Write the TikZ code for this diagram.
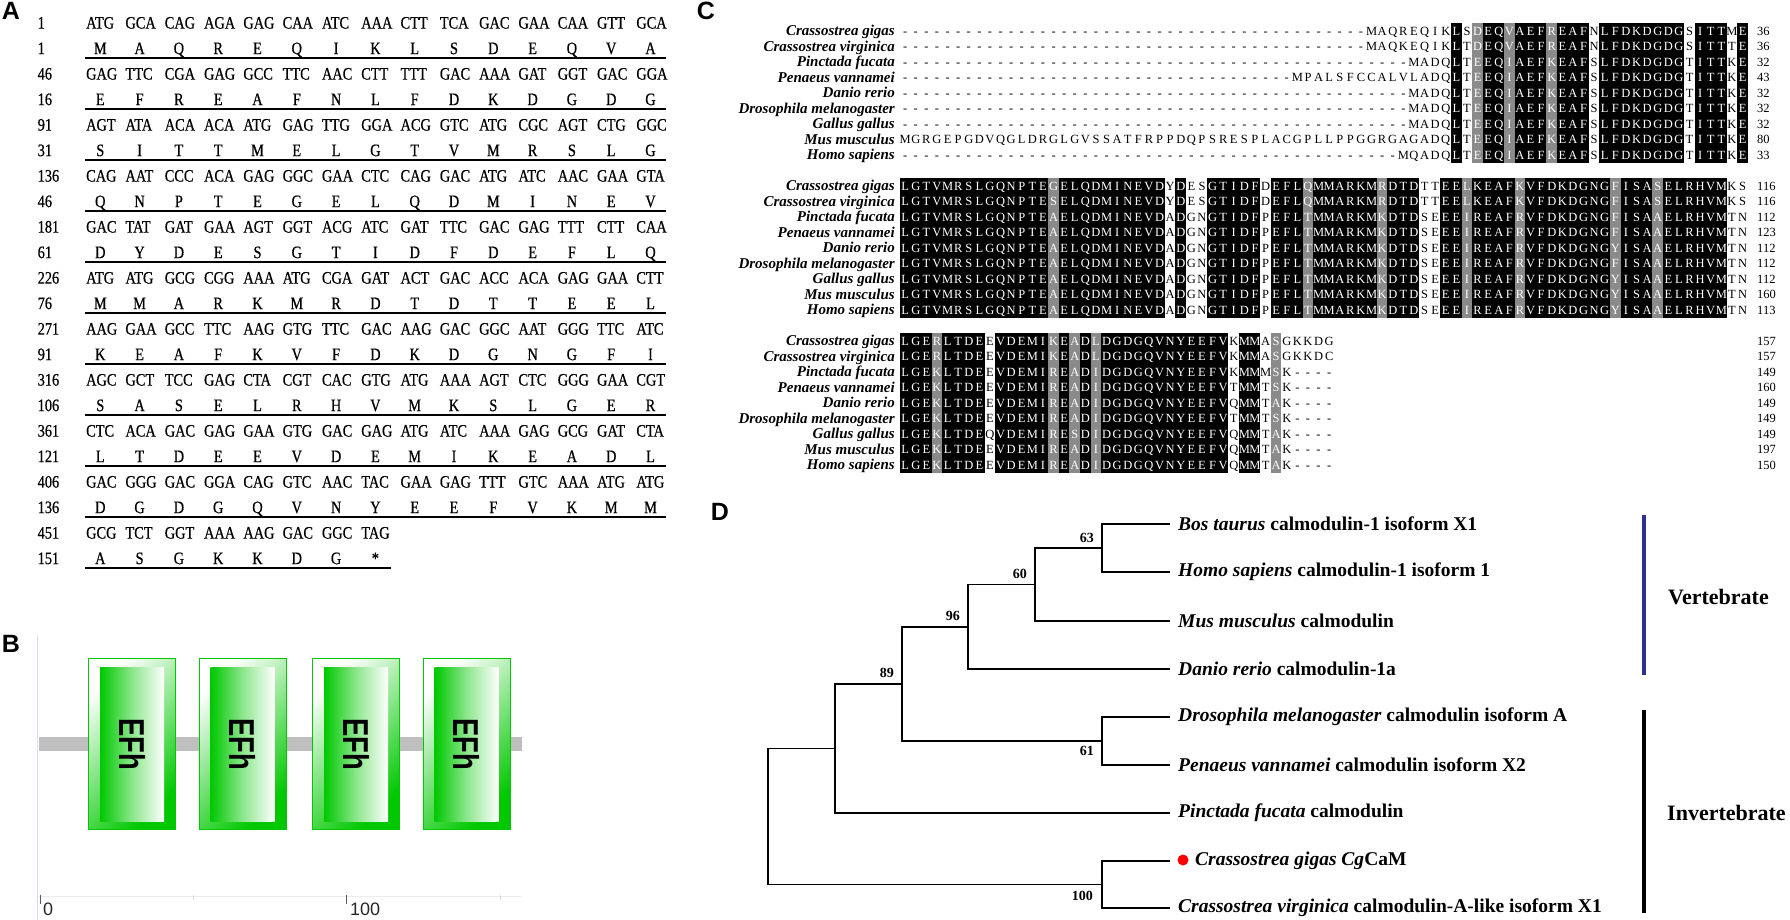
\documentclass[tikz,border=0pt]{standalone}
\usepackage{fontspec}
\setmainfont{Liberation Serif}
\setsansfont{Liberation Sans}
\newfontfamily\seqfont{Liberation Serif}[FakeStretch=0.82,FakeBold=0.6]
\usetikzlibrary{calc}

\definecolor{efgreen}{RGB}{0,200,0}
\definecolor{vertblue}{RGB}{46,49,146}
\definecolor{resgray}{RGB}{138,138,138}

% one residue per column box
\ExplSyntaxOn
\cs_new:Npn \resgap #1 { \prg_replicate:nn {#1} { \makebox[10.6pt]{-} } }
\ExplSyntaxOff
\newcommand\resrow[1]{\expandafter\resrowi#1\relax}
\def\resrowi#1{\ifx\relax#1\else\makebox[10.6pt]{#1}\expandafter\resrowi\fi}

\tikzset{
  panel/.style={font=\sffamily\bfseries\fontsize{25}{25}\selectfont, inner sep=0pt},
  seqtxt/.style={font=\seqfont\fontsize{17.5}{17.5}\selectfont, inner sep=0pt},
  uline/.style={line width=2.3pt},
  spnm/.style={font=\bfseries\itshape\fontsize{15}{15}\selectfont, inner sep=0pt, anchor=base east},
  res/.style={font=\fontsize{12.5}{12.5}\selectfont, inner sep=0pt, anchor=base west},
  resnum/.style={font=\fontsize{12.5}{12.5}\selectfont, inner sep=0pt, anchor=base west},
  shb/.style={fill=black},
  shg/.style={fill=resgray},
  branch/.style={line width=1.7pt, line cap=rect},
  tiplbl/.style={font=\bfseries\fontsize{19.5}{19.5}\selectfont, inner sep=0pt, anchor=west},
  boot/.style={font=\bfseries\fontsize{14}{14}\selectfont, inner sep=0pt, anchor=east},
  clade/.style={font=\bfseries\fontsize{22}{22}\selectfont, inner sep=0pt, anchor=west},
  efh/.style={font=\sffamily\bfseries\fontsize{36}{36}\selectfont, inner sep=0pt, rotate=-90},
  axlbl/.style={font=\sffamily\fontsize{18}{18}\selectfont, inner sep=0pt, anchor=west, text=black!85},
}

% alignment data: leading gaps / residues / end position
\def\blkA{44/MAQREQIKLSDEQVAEFREAFNLFDKDGDGSITTME/36,
44/MAQKEQIKLTDEQVAEFREAFNLFDKDGDGSITTTE/36,
48/MADQLTEEQIAEFKEAFSLFDKDGDGTITTKE/32,
37/MPALSFCCALVLADQLTEEQIAEFKEAFSLFDKDGDGTITTKE/43,
48/MADQLTEEQIAEFKEAFSLFDKDGDGTITTKE/32,
48/MADQLTEEQIAEFKEAFSLFDKDGDGTITTKE/32,
48/MADQLTEEQIAEFKEAFSLFDKDGDGTITTKE/32,
0/MGRGEPGDVQGLDRGLGVSSATFRPPDQPSRESPLACGPLLPPGGRGAGADQLTEEQIAEFKEAFSLFDKDGDGTITTKE/80,
47/MQADQLTEEQIAEFKEAFSLFDKDGDGTITTKE/33}
\def\blkB{0/LGTVMRSLGQNPTEGELQDMINEVDYDESGTIDFDEFLQMMARKMRDTDTTEELKEAFKVFDKDGNGFISASELRHVMKS/116,
0/LGTVMRSLGQNPTESELQDMINEVDYDESGTIDFDEFLQMMARKMRDTDTTEELKEAFKVFDKDGNGFISASELRHVMKS/116,
0/LGTVMRSLGQNPTEAELQDMINEVDADGNGTIDFPEFLTMMARKMKDTDSEEEIREAFRVFDKDGNGFISAAELRHVMTN/112,
0/LGTVMRSLGQNPTEAELQDMINEVDADGNGTIDFPEFLTMMARKMKDTDSEEEIREAFRVFDKDGNGFISAAELRHVMTN/123,
0/LGTVMRSLGQNPTEAELQDMINEVDADGNGTIDFPEFLTMMARKMKDTDSEEEIREAFRVFDKDGNGYISAAELRHVMTN/112,
0/LGTVMRSLGQNPTEAELQDMINEVDADGNGTIDFPEFLTMMARKMKDTDSEEEIREAFRVFDKDGNGFISAAELRHVMTN/112,
0/LGTVMRSLGQNPTEAELQDMINEVDADGNGTIDFPEFLTMMARKMKDTDSEEEIREAFRVFDKDGNGYISAAELRHVMTN/112,
0/LGTVMRSLGQNPTEAELQDMINEVDADGNGTIDFPEFLTMMARKMKDTDSEEEIREAFRVFDKDGNGYISAAELRHVMTN/160,
0/LGTVMRSLGQNPTEAELQDMINEVDADGNGTIDFPEFLTMMARKMKDTDSEEEIREAFRVFDKDGNGYISAAELRHVMTN/113}
\def\blkC{0/LGERLTDEEVDEMIKEADLDGDGQVNYEEFVKMMASGKKDG/157,
0/LGERLTDEEVDEMIKEADLDGDGQVNYEEFVKMMASGKKDC/157,
0/LGEKLTDEEVDEMIREADIDGDGQVNYEEFVKMMMSK----/149,
0/LGEKLTDEEVDEMIREADIDGDGQVNYEEFVTMMTSK----/160,
0/LGEKLTDEEVDEMIREADIDGDGQVNYEEFVQMMTAK----/149,
0/LGEKLTDEEVDEMIREADIDGDGQVNYEEFVTMMTSK----/149,
0/LGEKLTDEQVDEMIRESDIDGDGQVNYEEFVQMMTAK----/149,
0/LGEKLTDEEVDEMIREADIDGDGQVNYEEFVQMMTAK----/197,
0/LGEKLTDEEVDEMIREADIDGDGQVNYEEFVQMMTAK----/150}
\def\spnames{Crassostrea gigas, Crassostrea virginica, Pinctada fucata, Penaeus vannamei,
Danio rerio, Drosophila melanogaster, Gallus gallus, Mus musculus, Homo sapiens}
% shaded columns: first/last/shade
\def\shA{53/53/b, 55/55/g, 56/57/b, 58/58/g, 59/61/b, 62/62/g, 63/65/b, 67/74/b, 76/78/b, 80/80/b}
\def\shB{1/14/b, 15/15/g, 16/25/b, 27/27/b, 30/34/b, 36/38/b, 39/39/g, 40/45/b, 46/46/g,
47/49/b, 52/53/b, 54/54/g, 55/58/b, 59/59/g, 60/67/b, 68/68/g, 69/71/b, 72/72/g, 73/78/b}
\def\shC{1/3/b, 4/4/g, 5/8/b, 10/14/b, 15/15/g, 16/16/b, 17/17/g, 18/18/b, 19/19/g,
20/31/b, 33/34/b, 36/36/g}

\newcommand\alnblock[3]{%
  \foreach \nd/\sq/\nm [count=\i from 0] in #2 {
    \node[res, text=#3] (res#1-\i) at (899.7,35.3+155*#1+15.5*\i) {\resgap{\nd}\resrow{\sq}};
    \node[resnum] (num#1-\i) at (1757,35.3+155*#1+15.5*\i) {\nm};
  }}

\begin{document}
\begin{tikzpicture}[x=1pt,y=-1pt]
\useasboundingbox (0,0) rectangle (1790,920);

% ---------- A: coding sequence ----------
\node[panel] (lblA) at (11,11) {A};
\foreach \dnum/\pnum/\cods/\amis/\nc [count=\r from 0] in {
  1/1/{ATG,GCA,CAG,AGA,GAG,CAA,ATC,AAA,CTT,TCA,GAC,GAA,CAA,GTT,GCA}/{M,A,Q,R,E,Q,I,K,L,S,D,E,Q,V,A}/15,
  46/16/{GAG,TTC,CGA,GAG,GCC,TTC,AAC,CTT,TTT,GAC,AAA,GAT,GGT,GAC,GGA}/{E,F,R,E,A,F,N,L,F,D,K,D,G,D,G}/15,
  91/31/{AGT,ATA,ACA,ACA,ATG,GAG,TTG,GGA,ACG,GTC,ATG,CGC,AGT,CTG,GGC}/{S,I,T,T,M,E,L,G,T,V,M,R,S,L,G}/15,
  136/46/{CAG,AAT,CCC,ACA,GAG,GGC,GAA,CTC,CAG,GAC,ATG,ATC,AAC,GAA,GTA}/{Q,N,P,T,E,G,E,L,Q,D,M,I,N,E,V}/15,
  181/61/{GAC,TAT,GAT,GAA,AGT,GGT,ACG,ATC,GAT,TTC,GAC,GAG,TTT,CTT,CAA}/{D,Y,D,E,S,G,T,I,D,F,D,E,F,L,Q}/15,
  226/76/{ATG,ATG,GCG,CGG,AAA,ATG,CGA,GAT,ACT,GAC,ACC,ACA,GAG,GAA,CTT}/{M,M,A,R,K,M,R,D,T,D,T,T,E,E,L}/15,
  271/91/{AAG,GAA,GCC,TTC,AAG,GTG,TTC,GAC,AAG,GAC,GGC,AAT,GGG,TTC,ATC}/{K,E,A,F,K,V,F,D,K,D,G,N,G,F,I}/15,
  316/106/{AGC,GCT,TCC,GAG,CTA,CGT,CAC,GTG,ATG,AAA,AGT,CTC,GGG,GAA,CGT}/{S,A,S,E,L,R,H,V,M,K,S,L,G,E,R}/15,
  361/121/{CTC,ACA,GAC,GAG,GAA,GTG,GAC,GAG,ATG,ATC,AAA,GAG,GCG,GAT,CTA}/{L,T,D,E,E,V,D,E,M,I,K,E,A,D,L}/15,
  406/136/{GAC,GGG,GAC,GGA,CAG,GTC,AAC,TAC,GAA,GAG,TTT,GTC,AAA,ATG,ATG}/{D,G,D,G,Q,V,N,Y,E,E,F,V,K,M,M}/15,
  451/151/{GCG,TCT,GGT,AAA,AAG,GAC,GGC,TAG}/{A,S,G,K,K,D,G,*}/8}{
  \node[seqtxt, anchor=base west] (dnum\r) at (37.5,28.6+51*\r) {\dnum};
  \node[seqtxt, anchor=base west] (pnum\r) at (37.5,54.1+51*\r) {\pnum};
  \foreach \cod [count=\k from 0] in \cods
    \node[seqtxt, anchor=base west] (cod\r-\k) at (86+39.3*\k,28.6+51*\r) {\cod};
  \foreach \ami [count=\k from 0] in \amis
    \node[seqtxt, anchor=base] (ami\r-\k) at (100.3+39.3*\k,54.1+51*\r) {\ami};
  \draw[uline] (85,57.8+51*\r) -- ({86+39.3*(\nc-1)+29.6},57.8+51*\r);
}

% ---------- B: domain structure ----------
\node[panel] (lblB) at (11,643.5) {B};
\draw[blue!15, line width=0.8pt] (37.5,635) -- (37.5,920);
\draw[gray!15, line width=0.8pt] (37.5,896) -- (522,896);
\draw[gray!70!black, line width=1pt] (40,895) -- (40,904);
\draw[gray!70!black, line width=1pt] (346,895) -- (346,904);
\draw[gray!30, line width=1pt] (193,895) -- (193,900);
\draw[gray!30, line width=1pt] (500,895) -- (500,900);
\node[axlbl] (ax0) at (43,909) {0};
\node[axlbl] (ax100) at (350,909) {100};
\fill[gray!50] (39,737) rectangle (522,751);
\foreach \x [count=\k] in {88.5,199,312.5,423} {
  \shade[top color=white, bottom color=efgreen, shading angle=45] (\x,658) rectangle +(87.2,171);
  \draw[efgreen, line width=0.8pt] (\x,658) rectangle +(87.2,171);
  \shade[left color=efgreen, right color=white, middle color=efgreen!45!white] (\x+11.5,667) rectangle (\x+75.7,821);
  \node[efh] (ef\k) at (\x+44,744) {\scalebox{0.76}[1]{EFh}};
}

% ---------- C: alignment ----------
\node[panel] (lblC) at (706,11) {C};
\foreach \b in {0,1,2}
  \foreach \sp [count=\i from 0] in \spnames
    \node[spnm] (sp\b-\i) at (895,35.8+155*\b+15.5*\i) {\sp};
\alnblock{0}{\blkA}{black}
\alnblock{1}{\blkB}{black}
\alnblock{2}{\blkC}{black}
\foreach \ca/\cb/\cs in \shA
  \fill[sh\cs] (889.1+10.6*\ca,23.25) rectangle (899.7+10.6*\cb,162.75);
\foreach \ca/\cb/\cs in \shB
  \fill[sh\cs] (889.1+10.6*\ca,178.25) rectangle (899.7+10.6*\cb,317.75);
\foreach \ca/\cb/\cs in \shC
  \fill[sh\cs] (889.1+10.6*\ca,333.25) rectangle (899.7+10.6*\cb,472.75);
\begin{scope}
  \clip \foreach \ca/\cb/\cs in \shA {(889.1+10.6*\ca,23.25) rectangle (899.7+10.6*\cb,162.75)}
        \foreach \ca/\cb/\cs in \shB {(889.1+10.6*\ca,178.25) rectangle (899.7+10.6*\cb,317.75)}
        \foreach \ca/\cb/\cs in \shC {(889.1+10.6*\ca,333.25) rectangle (899.7+10.6*\cb,472.75)};
  \alnblock{0}{\blkA}{white}
  \alnblock{1}{\blkB}{white}
  \alnblock{2}{\blkC}{white}
\end{scope}

% ---------- D: tree ----------
\node[panel] (lblD) at (720,512) {D};
\foreach \ty [count=\k] in {524,572,621,669,717,765,813,861,908}
  \coordinate (t\k) at (1169,\ty);
\coordinate (n63) at (1102,548);
\coordinate (n60) at (1035,584.5);
\coordinate (n96) at (968,626.75);
\coordinate (n61) at (1102,741);
\coordinate (n89) at (902,683.9);
\coordinate (nPf) at (835,748.4);
\coordinate (n100) at (1102,884.5);
\coordinate (root) at (768,816.5);
\draw[branch] (t1) -| (n63) |- (t2);
\draw[branch] (n63) -| (n60) |- (t3);
\draw[branch] (n60) -| (n96) |- (t4);
\draw[branch] (t5) -| (n61) |- (t6);
\draw[branch] (n96) -| (n89) |- (n61);
\draw[branch] (n89) -| (nPf) |- (t7);
\draw[branch] (t8) -| (n100) |- (t9);
\draw[branch] (nPf) -| (root) |- (n100);
\node[boot] (b63) at ([shift={(-8,-10.5)}]n63) {63};
\node[boot] (b60) at ([shift={(-8,-10.5)}]n60) {60};
\node[boot] (b96) at ([shift={(-8,-10.5)}]n96) {96};
\node[boot] (b89) at ([shift={(-8,-11)}]n89) {89};
\node[boot] (b61) at ([shift={(-8,10)}]n61) {61};
\node[boot] (b100) at ([shift={(-9,11)}]n100) {100};
\node[tiplbl] (lb1) at (1178,524) {\textit{Bos taurus} calmodulin-1 isoform X1};
\node[tiplbl] (lb2) at (1178,572) {\textit{Homo sapiens} calmodulin-1 isoform 1};
\node[tiplbl] (lb3) at (1178,621) {\textit{Mus musculus} calmodulin};
\node[tiplbl] (lb4) at (1178,669) {\textit{Danio rerio} calmodulin-1a};
\node[tiplbl] (lb5) at (1178,717) {\textit{Drosophila melanogaster} calmodulin isoform A};
\node[tiplbl] (lb6) at (1178,765) {\textit{Penaeus vannamei} calmodulin isoform X2};
\node[tiplbl] (lb7) at (1178,813) {\textit{Pinctada fucata} calmodulin};
\node[circle, fill=red, inner sep=0pt, minimum size=11pt] (cgdot) at (1183,860) {};
\node[tiplbl] (lb8) at (1195,861) {\textit{Crassostrea gigas Cg}CaM};
\node[tiplbl] (lb9) at (1178,908) {\textit{Crassostrea virginica} calmodulin-A-like isoform X1};
\coordinate (vtop) at (1644,515);
\coordinate (vbot) at (1644,675);
\coordinate (itop) at (1644,710);
\coordinate (ibot) at (1644,913);
\draw[vertblue, line width=4pt] (vtop) -- (vbot);
\draw[black, line width=4pt] (itop) -- (ibot);
\node[clade] (vert) at (1668,597) {Vertebrate};
\node[clade] (invert) at (1667,813) {Invertebrate};
\end{tikzpicture}
\end{document}
